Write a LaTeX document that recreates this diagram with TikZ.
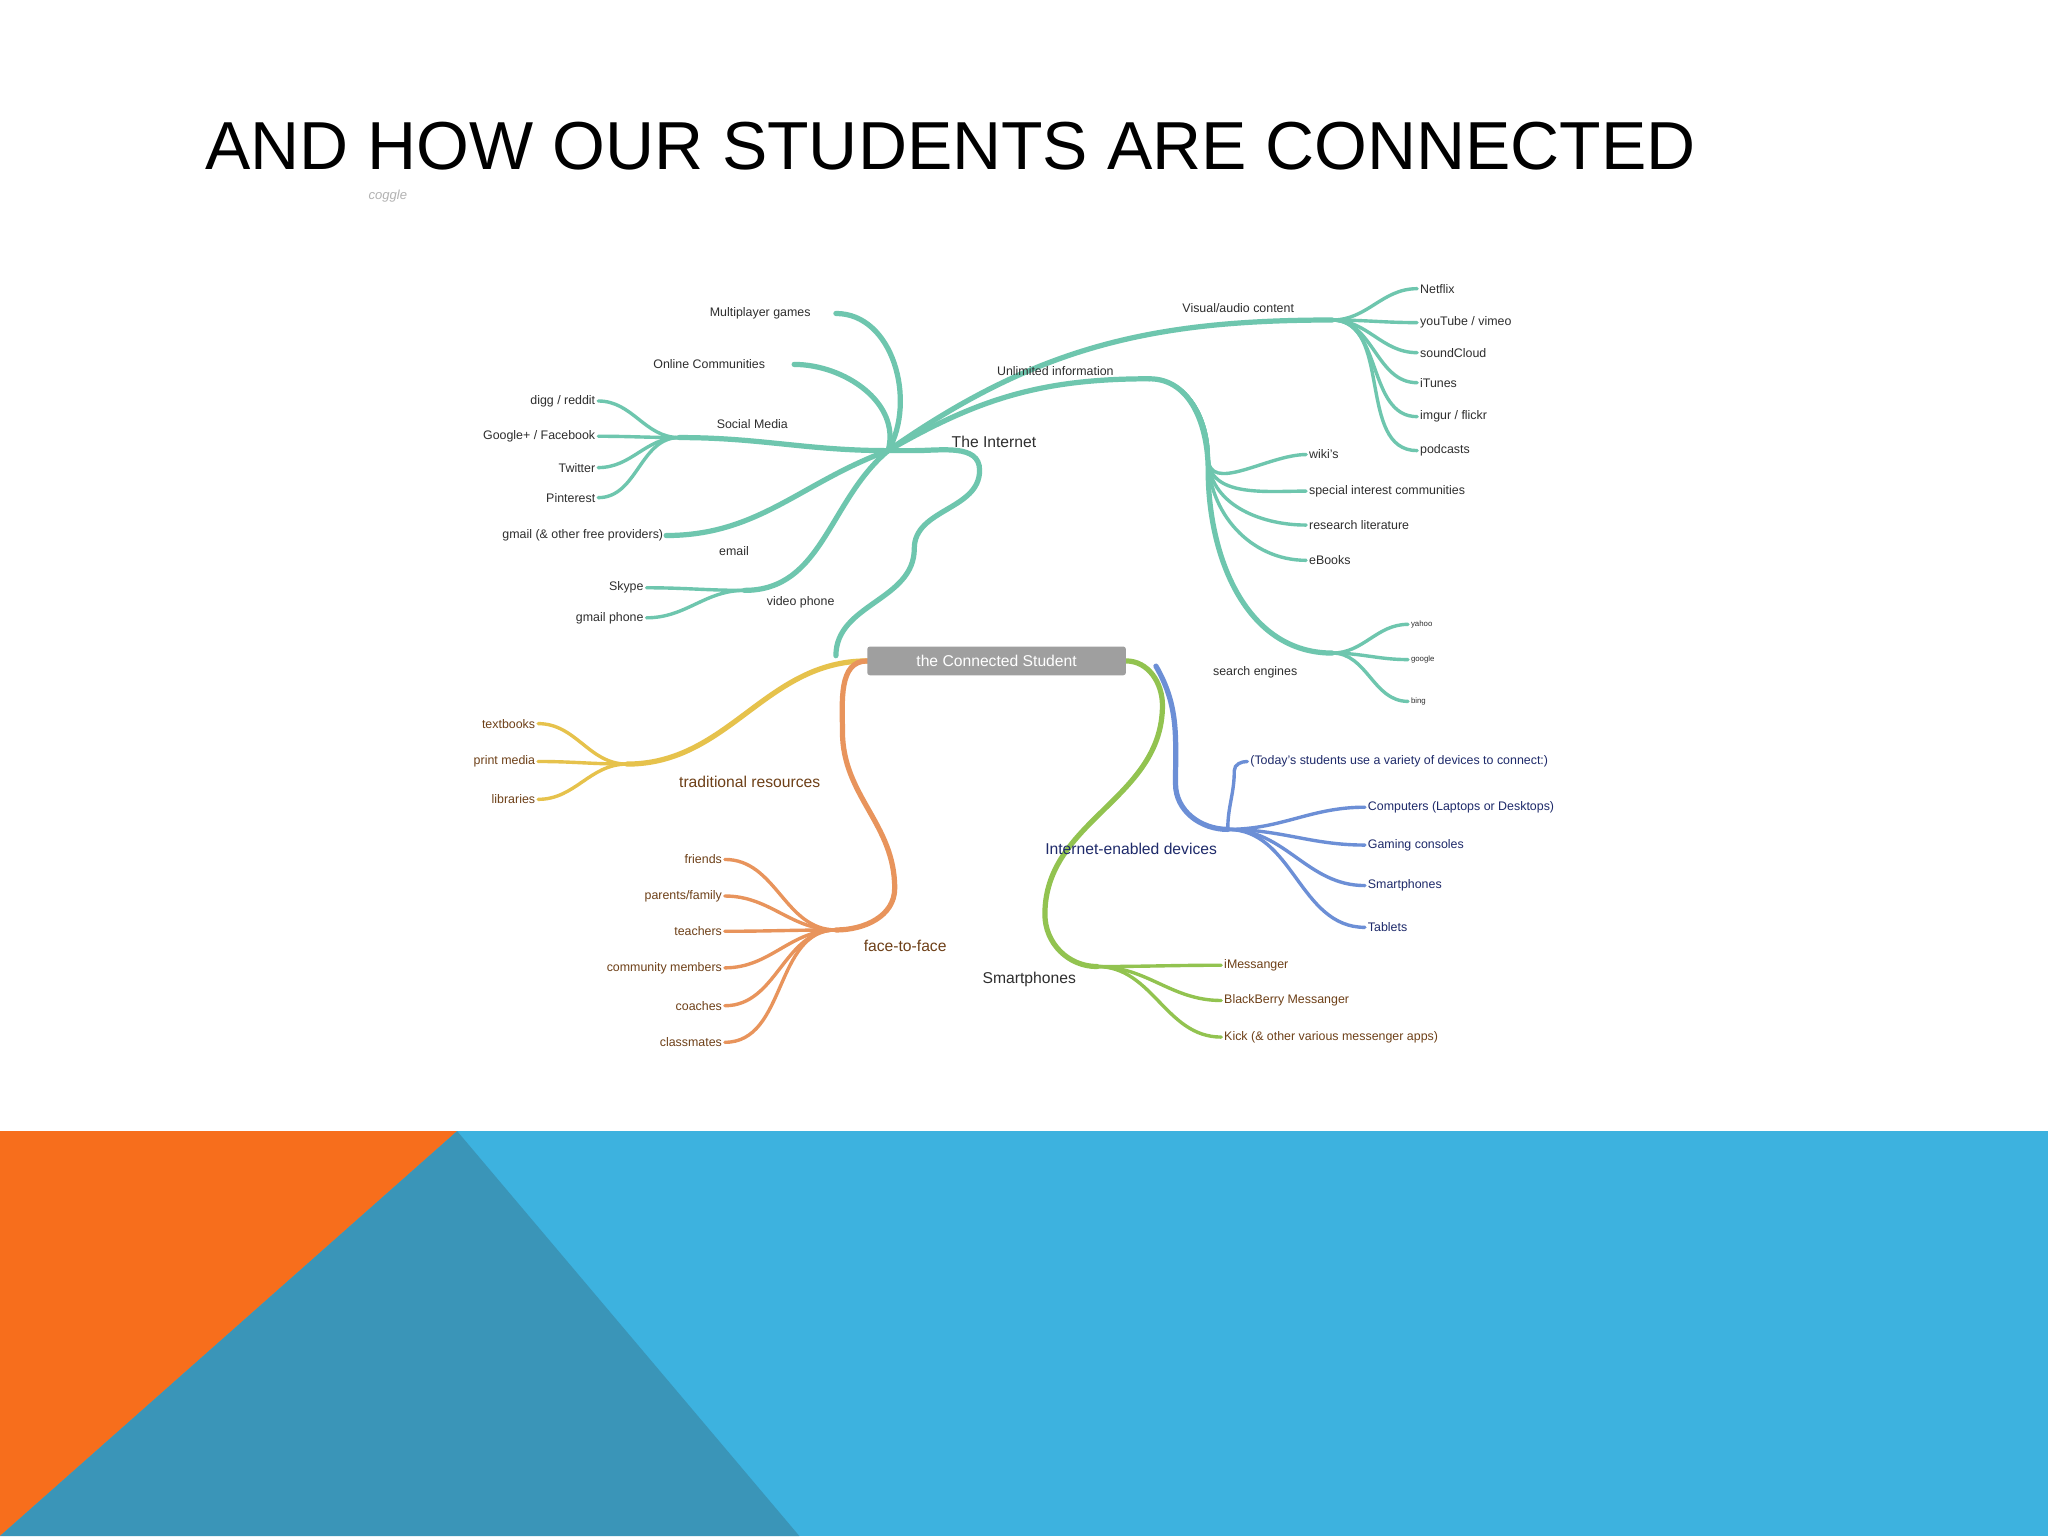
\documentclass[tikz,border=0pt]{standalone}
\usepackage{fontspec}
\setmainfont{Liberation Sans}
\begin{document}
\begin{tikzpicture}[x=1pt,y=-1pt,
  br/.style={line width=4pt,line cap=round},
  lf/.style={line width=2.6pt,line cap=round},
  lab/.style={font=\fontsize{9.5}{10}\selectfont,text=#1,inner sep=1pt},
  big/.style={font=\fontsize{12}{13}\selectfont,text=#1,inner sep=1pt}]
\definecolor{teal}{HTML}{6EC6AE}
\definecolor{yel}{HTML}{E6C24C}
\definecolor{ora}{HTML}{E8945C}
\definecolor{grn}{HTML}{92C350}
\definecolor{blu}{HTML}{6C8FD6}
\definecolor{tg}{HTML}{2E2E2E}
\definecolor{ob}{HTML}{6E4018}
\definecolor{nv}{HTML}{1E2A6A}
\definecolor{bandb}{HTML}{3DB2DF}
\definecolor{bandd}{HTML}{3A95B8}
\definecolor{orng}{HTML}{F76E1C}
\useasboundingbox (0,0) rectangle (1568,1176);
\fill[white] (0,0) rectangle (1568,1176);
\fill[bandb] (0,866) rectangle (1568,1176);
\fill[orng] (0,866) -- (350,866) -- (0,1176) -- cycle;
\fill[bandd] (350,866) -- (612,1176) -- (0,1176) -- cycle;
\node[anchor=base west,inner sep=0,font=\fontsize{52}{52}\selectfont] (title) at (157,130) {AND HOW OUR STUDENTS ARE CONNECTED};
\node[font=\itshape\fontsize{10}{10}\selectfont,text=gray!60] (cog) at (297,150) {coggle};
% coordinates
\coordinate (hub) at (680,345);
\coordinate (rootl) at (664,506);
\coordinate (rootr) at (862,506);
% teal trunk
\draw[teal,br] (640,502) to[out=90,in=-90] (700,420) to[out=90,in=-90] (750,360) to[out=90,in=0] (700,345) -- (hub);
\draw[teal,br] (hub) to[out=60,in=0] (640,240);
\draw[teal,br] (hub) to[out=75,in=0] (608,279);
\draw[teal,br] (hub) to[out=180,in=0] (520,335);
\draw[teal,br] (hub) to[out=200,in=0] (510,410);
\draw[teal,br] (hub) to[out=220,in=0] (570,452);
\draw[teal,br] (hub) to[out=30,in=180] (880,290);
\draw[teal,br] (hub) to[out=35,in=180] (1020,245);
\foreach \y/\t in {221/Netflix,247/{youTube / vimeo},270/soundCloud,293/iTunes,319/{imgur / flickr},345/podcasts}
  \draw[teal,lf] (1020,245) to[out=0,in=180] (1085,\y) node[right,lab=tg] {\t};
\foreach \y/\t in {348/wiki's,376/special interest communities,402/research literature,429/eBooks}
  \draw[teal,lf] (880,290) to[out=0,in=90] (925,350) to[out=-90,in=180] (1000,\y) node[right,lab=tg] {\t};
\draw[teal,br] (880,290) to[out=0,in=90] (925,360) to[out=-90,in=180] (1020,500);
\foreach \y/\t in {478/yahoo,505/google,537/bing}
  \draw[teal,lf] (1020,500) to[out=0,in=180] (1078,\y) node[right,lab=tg,font=\fontsize{6}{7}\selectfont] {\t};
\foreach \y/\t in {307/{digg / reddit},334/{Google+ / Facebook},358/Twitter,381/Pinterest}
  \draw[teal,lf] (520,335) to[out=180,in=0] (458,\y) node[left,lab=tg] {\t};
\draw[teal,lf] (510,410) node[left,lab=tg] {gmail (\& other free providers)};
\foreach \y/\t in {450/Skype,473/gmail phone}
  \draw[teal,lf] (570,452) to[out=180,in=0] (495,\y) node[left,lab=tg] {\t};
\node[lab=tg] (mg) at (582,240) {Multiplayer games};
\node[lab=tg] (oc) at (543,279) {Online Communities};
\node[lab=tg] (sm) at (576,325) {Social Media};
\node[lab=tg] (em) at (562,422) {email};
\node[lab=tg] (vp) at (613,461) {video phone};
\node[lab=tg] (ui) at (808,284) {Unlimited information};
\node[lab=tg] (va) at (948,236) {Visual/audio content};
\node[lab=tg] (se) at (961,515) {search engines};
\node[big=tg] (int) at (761,338) {The Internet};
% traditional
\draw[yel,br] (rootl) to[out=180,in=0] (480,585);
\foreach \y/\t in {554/textbooks,583/print media,612/libraries}
  \draw[yel,lf] (480,585) to[out=180,in=0] (412,\y) node[left,lab=ob] {\t};
\node[big=ob] (tr) at (574,599) {traditional resources};
% face to face
\draw[ora,br] (rootl) to[out=180,in=90] (645,560) to[out=-90,in=90] (685,680) to[out=-90,in=0] (640,712);
\foreach \y/\t in {658/friends,686/{parents/family},713/teachers,741/community members,770/coaches,798/classmates}
  \draw[ora,lf] (640,712) to[out=180,in=0] (555,\y) node[left,lab=ob] {\t};
\node[big=ob] (ff) at (693,724) {face-to-face};
% green
\draw[grn,br] (rootr) to[out=0,in=90] (890,540) to[out=-90,in=90] (800,700) to[out=-90,in=180] (840,740);
\foreach \y/\t in {739/iMessanger,766/BlackBerry Messanger,794/{Kick (\& other various messenger apps)}}
  \draw[grn,lf] (840,740) to[out=0,in=180] (935,\y) node[right,lab=ob] {\t};
\node[big=tg] (sp) at (788,750) {Smartphones};
% blue
\draw[blu,br] (885,510) to[out=-60,in=90] (900,600) to[out=-90,in=180] (940,635);
\draw[blu,lf] (940,635) to[out=90,in=-90] (945,590) to[out=90,in=180] (955,583) node[right,lab=nv] {(Today's students use a variety of devices to connect:)};
\foreach \y/\t in {618/Computers (Laptops or Desktops),647/Gaming consoles,678/Smartphones,710/Tablets}
  \draw[blu,lf] (940,635) to[out=0,in=180] (1045,\y) node[right,lab=nv] {\t};
\node[big=nv] (ied) at (866,650) {Internet-enabled devices};
% root
\node[fill=gray!75,text=white,rounded corners=2pt,minimum width=198pt,minimum height=22pt,font=\fontsize{12}{13}\selectfont] (root) at (763,506) {the Connected Student};
\end{tikzpicture}
\end{document}
